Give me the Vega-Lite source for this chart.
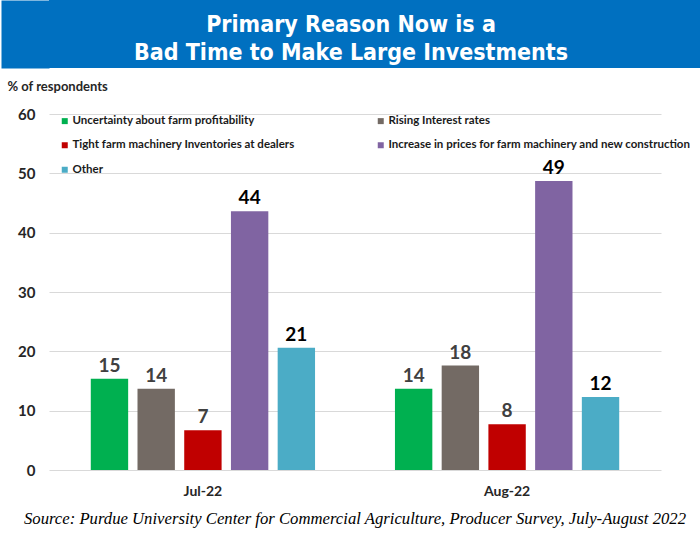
{
  "$schema": "https://vega.github.io/schema/vega-lite/v6.json",
  "padding": 0,
  "background": "white",
  "spacing": 12,
  "bounds": "full",
  "config": {"view": {"stroke": null}, "font": "Lato"},
  "vconcat": [
    {
      "width": 652,
      "height": 68,
      "data": {"values": [{"k": 0.5}]},
      "mark": {"type": "point", "opacity": 0, "size": 1},
      "encoding": {
        "y": {
          "field": "k",
          "type": "quantitative",
          "scale": {"domain": [0, 1]},
          "axis": {
            "title": null,
            "labels": false,
            "ticks": false,
            "grid": false,
            "domain": true,
            "domainColor": "#0070C0",
            "domainWidth": 48,
            "domainCap": "butt",
            "offset": 24
          }
        }
      },
      "view": {"fill": "#0070C0", "stroke": null},
      "title": {
        "text": ["Primary Reason Now is a", "Bad Time to Make Large Investments"],
        "orient": "top",
        "anchor": "middle",
        "frame": "group",
        "offset": -65,
        "dx": -24,
        "font": "DejaVu Sans Condensed, sans-serif",
        "fontSize": 23,
        "fontWeight": "bold",
        "color": "white",
        "lineHeight": 28
      }
    },
    {
      "width": 612,
      "height": 356,
      "data": {
        "values": [
          {"month": "Jul-22", "category": "Uncertainty about farm profitability", "value": 15.4},
          {"month": "Jul-22", "category": "Rising Interest rates", "value": 13.7},
          {"month": "Jul-22", "category": "Tight farm machinery Inventories at dealers", "value": 6.7},
          {"month": "Jul-22", "category": "Increase in prices for farm machinery and new construction", "value": 43.6},
          {"month": "Jul-22", "category": "Other", "value": 20.6},
          {"month": "Aug-22", "category": "Uncertainty about farm profitability", "value": 13.7},
          {"month": "Aug-22", "category": "Rising Interest rates", "value": 17.6},
          {"month": "Aug-22", "category": "Tight farm machinery Inventories at dealers", "value": 7.7},
          {"month": "Aug-22", "category": "Increase in prices for farm machinery and new construction", "value": 48.7},
          {"month": "Aug-22", "category": "Other", "value": 12.3}
        ]
      },
      "title": {
        "text": "Source: Purdue University Center for Commercial Agriculture, Producer Survey, July-August 2022",
        "orient": "bottom",
        "anchor": "middle",
        "frame": "group",
        "offset": 13,
        "font": "Liberation Serif",
        "fontStyle": "italic",
        "fontWeight": "normal",
        "fontSize": 16.7,
        "color": "black"
      },
      "encoding": {
        "x": {
          "field": "month",
          "type": "nominal",
          "sort": ["Jul-22", "Aug-22"],
          "scale": {"paddingInner": 0.232, "paddingOuter": 0.122},
          "axis": {
            "title": null,
            "labelAngle": 0,
            "domain": false,
            "ticks": false,
            "labelPadding": 14,
            "labelFontSize": 14,
            "labelFontWeight": "bold",
            "labelColor": "#262626"
          }
        },
        "xOffset": {
          "field": "category",
          "type": "nominal",
          "sort": ["Uncertainty about farm profitability", "Rising Interest rates", "Tight farm machinery Inventories at dealers", "Increase in prices for farm machinery and new construction", "Other"],
          "scale": {"paddingInner": 0.2, "paddingOuter": 0.1}
        },
        "y": {
          "field": "value",
          "type": "quantitative",
          "scale": {"domain": [0, 60]},
          "axis": {
            "values": [0, 10, 20, 30, 40, 50, 60],
            "title": "% of respondents",
            "titleAngle": 0,
            "titleAlign": "left",
            "titleBaseline": "top",
            "titleX": -42,
            "titleY": -34,
            "titleFontSize": 13,
            "titleFontWeight": "bold",
            "titleColor": "#262626",
            "labelFontSize": 15,
            "labelFontWeight": "bold",
            "labelColor": "#262626",
            "grid": true,
            "gridColor": "#D9D9D9",
            "domain": false,
            "ticks": true,
            "tickSize": 48,
            "tickColor": "rgba(0,0,0,0)",
            "labelPadding": -34
          }
        }
      },
      "layer": [
        {
          "mark": {"type": "bar"},
          "encoding": {
            "color": {
              "field": "category",
              "type": "nominal",
              "scale": {
                "domain": ["Uncertainty about farm profitability", "Rising Interest rates", "Tight farm machinery Inventories at dealers", "Increase in prices for farm machinery and new construction", "Other"],
                "range": ["#00B050", "#736A64", "#C00000", "#8064A2", "#4BACC6"]
              },
              "legend": {
                "title": null,
                "orient": "none",
                "direction": "horizontal",
                "legendX": 10,
                "legendY": 115,
                "columns": 2,
                "columnPadding": 80,
                "rowPadding": 11.5,
                "padding": 0,
                "symbolType": "square",
                "symbolSize": 36,
                "symbolStrokeWidth": 0,
                "labelFontSize": 11.5,
                "labelFontWeight": "bold",
                "labelColor": "#1a1a1a",
                "labelOffset": 2,
                "labelLimit": 400
              }
            }
          }
        },
        {
          "mark": {"type": "text", "baseline": "bottom", "dy": -3, "fontSize": 19, "fontWeight": "bold"},
          "encoding": {
            "text": {"field": "value", "type": "quantitative", "format": ".0f"},
            "color": {
              "condition": {"test": "datum.category === 'Other' || datum.category === 'Increase in prices for farm machinery and new construction'", "value": "#000000"},
              "value": "#404040"
            }
          }
        }
      ]
    }
  ]
}
